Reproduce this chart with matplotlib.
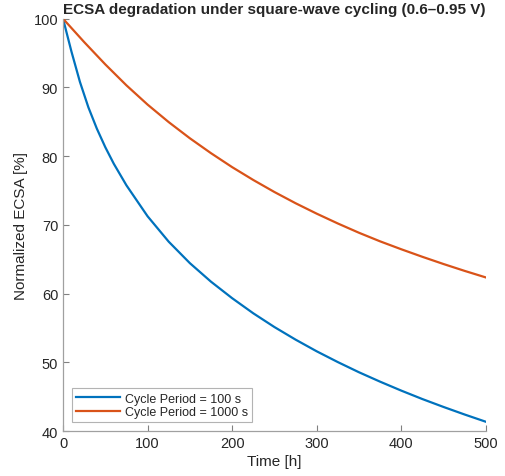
import matplotlib.pyplot as plt

# values
t_100 = [0, 10, 20, 30, 40, 50, 60, 75, 100, 125, 150, 175, 200, 225, 250, 275, 300,
         325, 350, 375, 400, 425, 450, 475, 500]
ecsa_100 = [100, 95.2, 90.8, 87.1, 84.0, 81.3, 78.9, 75.75, 71.25, 67.55, 64.43, 61.73,
            59.33, 57.13, 55.13, 53.3, 51.6, 50.03, 48.55, 47.18, 45.88, 44.65, 43.5,
            42.4, 41.35]
t_1000 = [0, 25, 50, 75, 100, 125, 150, 175, 200, 225, 250, 275, 300, 325, 350, 375,
          400, 425, 450, 475, 500]
ecsa_1000 = [100, 96.6, 93.35, 90.3, 87.5, 84.95, 82.6, 80.43, 78.4, 76.53, 74.78, 73.15,
             71.63, 70.2, 68.85, 67.6, 66.45, 65.35, 64.3, 63.3, 62.35]
labels = ['Cycle Period = 100 s', 'Cycle Period = 1000 s']
x_ticks = [0, 100, 200, 300, 400, 500]
y_ticks = [40, 50, 60, 70, 80, 90, 100]

plt.rcParams['font.family'] = ['Liberation Sans', 'DejaVu Sans']

fig = plt.figure(figsize=(5.05, 4.77), dpi=100)
ax = fig.add_axes([0.1248, 0.0943, 0.962 - 0.1248, 0.9587 - 0.0943])

ax.plot(t_100, ecsa_100, color='#0072BD', lw=1.6, label=labels[0])
ax.plot(t_1000, ecsa_1000, color='#D95319', lw=1.6, label=labels[1])

ax.set_xlim(0, 500)
ax.set_ylim(40, 100)
ax.set_xticks(x_ticks)
ax.set_yticks(y_ticks)

# MATLAB-like axes: box off, ticks pointing inward
for s in ['top', 'right']:
    ax.spines[s].set_visible(False)
for s in ['left', 'bottom']:
    ax.spines[s].set_color('#a0a0a0')
    ax.spines[s].set_linewidth(0.9)
ax.tick_params(direction='in', length=4, width=0.8, color='#808080',
               labelcolor='#262626', labelsize=10.5)

ax.set_xlabel('Time [h]', fontsize=11, color='#262626', labelpad=3)
ax.set_ylabel('Normalized ECSA [%]', fontsize=11, color='#262626', labelpad=4)
ax.set_title('ECSA degradation under square-wave cycling (0.6–0.95 V)',
             fontsize=11, fontweight='bold', color='#262626', pad=4)

leg = ax.legend(loc='lower left', fontsize=9, frameon=True, fancybox=False,
                edgecolor='#a0a0a0', handlelength=3.5, borderpad=0.35,
                labelspacing=0.1, handletextpad=0.4, borderaxespad=0.7)
leg.get_frame().set_linewidth(0.8)
for txt in leg.get_texts():
    txt.set_color('#262626')

fig.savefig('out.png', dpi=100)
